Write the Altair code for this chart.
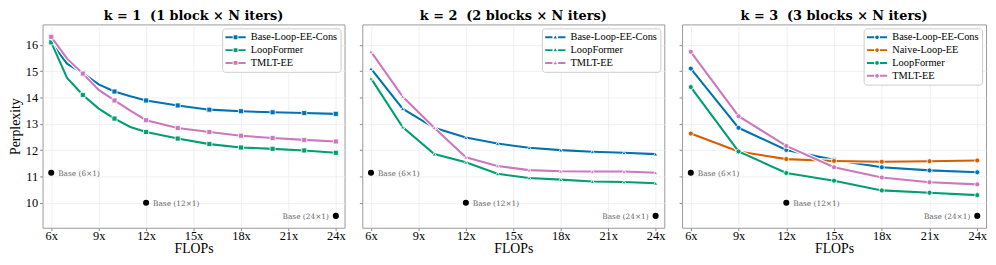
import altair as alt
import pandas as pd

SERIF = "Liberation Serif"
TITLE_FONT = "DejaVu Serif"

SERIES_COLORS = {
    "Base-Loop-EE-Cons": "#0173B2",
    "Naive-Loop-EE": "#D55E00",
    "LoopFormer": "#029E73",
    "TMLT-EE": "#CC78BC",
}

# k = 1
K1_X = [6, 7, 8, 9, 10, 11, 12, 14, 16, 18, 20, 22, 24]
K1_MARK_X = [6, 8, 10, 12, 14, 16, 18, 20, 22, 24]
K1_BASE_CONS = [16.10, 15.29, 14.93, 14.50, 14.23, 14.05, 13.89, 13.70, 13.54, 13.48, 13.44, 13.41, 13.38]
K1_LOOPFORMER = [16.10, 14.75, 14.10, 13.58, 13.20, 12.88, 12.69, 12.44, 12.23, 12.10, 12.05, 11.99, 11.90]
K1_TMLT = [16.31, 15.48, 14.91, 14.29, 13.89, 13.50, 13.14, 12.84, 12.69, 12.55, 12.46, 12.39, 12.33]

# k = 2
K2_X = [6, 8, 10, 12, 14, 16, 18, 20, 22, 24]
K2_BASE_CONS = [15.10, 13.58, 12.85, 12.48, 12.25, 12.09, 12.00, 11.94, 11.90, 11.85]
K2_LOOPFORMER = [14.73, 12.88, 11.85, 11.54, 11.10, 10.94, 10.88, 10.81, 10.79, 10.74]
K2_TMLT = [15.75, 14.04, 12.85, 11.73, 11.40, 11.24, 11.20, 11.19, 11.19, 11.14]

# k = 3
K3_X = [6, 9, 12, 15, 18, 21, 24]
K3_BASE_CONS = [15.10, 12.85, 12.01, 11.63, 11.35, 11.23, 11.16]
K3_NAIVE = [12.63, 11.95, 11.66, 11.59, 11.56, 11.58, 11.61]
K3_LOOPFORMER = [14.40, 11.95, 11.13, 10.84, 10.47, 10.38, 10.29]
K3_TMLT = [15.74, 13.29, 12.16, 11.35, 10.96, 10.78, 10.70]

# Base reference points
BASE_X = [6, 12, 24]
BASE_Y = [11.14, 10.00, 9.50]
BASE_LABELS = ["Base (6×1)", "Base (12×1)", "Base (24×1)"]

X_TICKS = [6, 9, 12, 15, 18, 21, 24]
Y_TICKS = [10, 11, 12, 13, 14, 15, 16]
X_DOMAIN = [5.45, 24.55]
Y_DOMAIN = [9.05, 16.78]

# legend glyphs: dash - marker - dash (unit coords, -1 = left edge of symbol slot)
DASHES = "M-1,-0.17H0.3V0.17H-1Z M1.3,-0.17H2.6V0.17H1.3Z "
PATH_SQUARE = DASHES + "M0.46,-0.34H1.14V0.34H0.46Z"
PATH_TRI = DASHES + "M0.8,-0.32L1.1,0.22H0.5Z"
PATH_CIRC = DASHES + "M0.47,0A0.33,0.33 0 1,0 1.13,0A0.33,0.33 0 1,0 0.47,0Z"


def panel(xs, series, mark_xs, shape, msize, legend_path, title, first, width):
    names = [n for n, _ in series]
    cscale = alt.Scale(domain=names, range=[SERIES_COLORS[n] for n in names])
    xenc = alt.X("x:Q", scale=alt.Scale(domain=X_DOMAIN, nice=False, zero=False),
                 axis=alt.Axis(values=X_TICKS, labelExpr="datum.value + 'x'", title="FLOPs"))
    if first:
        yaxis = alt.Axis(values=Y_TICKS, title="Perplexity", format="d")
    else:
        yaxis = alt.Axis(values=Y_TICKS, title=None, labels=False)
    yenc = alt.Y("y:Q", scale=alt.Scale(domain=Y_DOMAIN, nice=False, zero=False), axis=yaxis)

    legend = alt.Legend(title=None, orient="top-right", symbolType=legend_path,
                        symbolSize=130, symbolStrokeWidth=0,
                        labelFont=SERIF, labelFontSize=10.5, labelOffset=14, labelColor="black",
                        fillColor="white", strokeColor="#cccccc", cornerRadius=3,
                        padding=3, offset=4, rowPadding=1)

    layers = []
    for name, ys in series:
        df = pd.DataFrame({"x": xs, "y": ys, "series": name,
                           "marker": [x in mark_xs for x in xs]})
        base = alt.Chart(df)
        halo = base.mark_line(color="white", strokeWidth=4.2, clip=True).encode(x=xenc, y=yenc)
        line = base.mark_line(color=SERIES_COLORS[name], strokeWidth=2.1, clip=True).encode(x=xenc, y=yenc)
        pts = base.transform_filter("datum.marker").mark_point(
            shape=shape, filled=True, size=msize, stroke="white", strokeWidth=0.8, opacity=1, clip=True
        ).encode(
            x=xenc, y=yenc,
            color=alt.Color("series:N", scale=cscale, legend=legend))
        layers += [halo, line, pts]

    bdf = pd.DataFrame({"x": BASE_X, "y": BASE_Y, "label": BASE_LABELS})
    bchart = alt.Chart(bdf)
    bpts = bchart.mark_circle(color="black", size=38, opacity=1).encode(x=xenc, y=yenc)
    btxt_l = bchart.transform_filter("datum.x < 20").mark_text(
        align="left", baseline="middle", dx=7, dy=1, font="DejaVu Serif", fontSize=7.5, color="#666666"
    ).encode(x=xenc, y=yenc, text="label:N")
    btxt_r = bchart.transform_filter("datum.x >= 20").mark_text(
        align="right", baseline="middle", dx=-7, dy=1, font="DejaVu Serif", fontSize=7.5, color="#666666"
    ).encode(x=xenc, y=yenc, text="label:N")
    layers += [bpts, btxt_l, btxt_r]

    return alt.layer(*layers).properties(
        width=width, height=206,
        title=alt.Title(title, font=TITLE_FONT, fontSize=13, fontWeight="bold", offset=1),
    )


p1 = panel(K1_X, [("Base-Loop-EE-Cons", K1_BASE_CONS), ("LoopFormer", K1_LOOPFORMER), ("TMLT-EE", K1_TMLT)],
           K1_MARK_X, "square", 26, PATH_SQUARE, "k = 1 \u00a0(1 block × N iters)", True, 306)
p2 = panel(K2_X, [("Base-Loop-EE-Cons", K2_BASE_CONS), ("LoopFormer", K2_LOOPFORMER), ("TMLT-EE", K2_TMLT)],
           K2_X, "triangle-up", 18, PATH_TRI, "k = 2 \u00a0(2 blocks × N iters)", False, 306)
p3 = panel(K3_X, [("Base-Loop-EE-Cons", K3_BASE_CONS), ("Naive-Loop-EE", K3_NAIVE),
                  ("LoopFormer", K3_LOOPFORMER), ("TMLT-EE", K3_TMLT)],
           K3_X, "circle", 26, PATH_CIRC, "k = 3 \u00a0(3 blocks × N iters)", False, 308)

chart = alt.hconcat(p1, p2, p3, spacing=12).resolve_scale(
    color="independent"
).resolve_legend(color="independent").properties(padding=0).configure_view(
    stroke="#999999", strokeWidth=1
).configure_axis(
    grid=True, gridColor="#ececec", gridWidth=0.8, domain=False,
    tickColor="#888888", tickSize=3, labelFont=SERIF, labelFontSize=12.5, labelColor="black",
    titleFont=SERIF, titleFontSize=14, titleFontWeight="normal", titleColor="black",
).configure_axisX(labelPadding=-1, titlePadding=0).configure_axisY(
    labelPadding=2, titlePadding=3
).configure_legend(labelFont=SERIF).configure_title(anchor="middle", color="black")

chart.save("out.html", embed_options={"renderer": "svg", "actions": False})
